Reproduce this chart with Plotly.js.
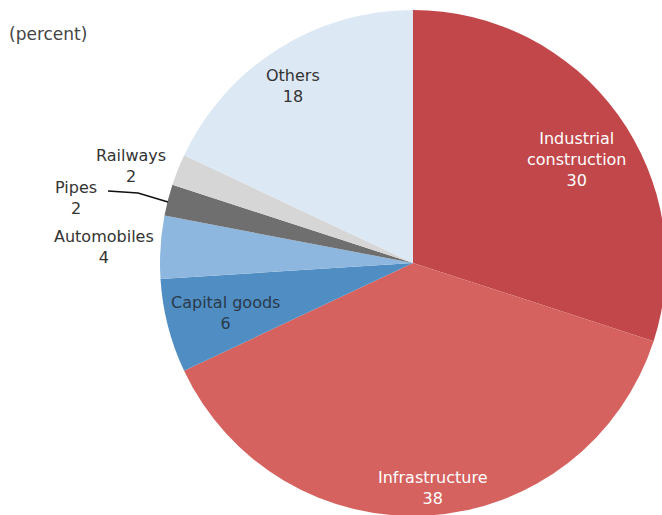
<!DOCTYPE html>
<html>
<head>
<meta charset="utf-8">
<script src="https://cdn.plot.ly/plotly-3.0.1.min.js"></script>
<style>
  html, body { margin:0; padding:0; background:#fff; overflow:hidden; width:662px; height:515px; }
  #chart { position:absolute; left:0; top:0; width:700px; height:540px; }
</style>
</head>
<body>
<div id="chart"></div>
<script>
// ---- data ----
const categories = ['Industrial construction', 'Infrastructure', 'Capital goods', 'Automobiles', 'Pipes', 'Railways', 'Others'];
const shares = [30, 38, 6, 4, 2, 2, 18];
const sliceColors = ['#C2474A', '#D5625F', '#4F8DC2', '#8DB7DE', '#6F6F6F', '#D6D6D6', '#DCE8F4'];
const unitNote = '(percent)';

// ---- layout helpers (pixel -> paper for a 700x540 plot area) ----
const W = 700, H = 540;
const px = x => x / W;
const py = y => 1 - y / H;

// label positions (style only)
const labelPos = [
  {x: 577, y: 159, color: '#FFFFFF'},
  {x: 432, y: 488, color: '#FFFFFF'},
  {x: 225, y: 313, color: '#2A3A4A'},
  {x: 104, y: 247, color: '#333333'},
  {x: 76,  y: 198, color: '#333333'},
  {x: 131, y: 166, color: '#333333'},
  {x: 293, y: 86,  color: '#333333'}
];

const annotations = categories.map((c, i) => ({
  text: c.replace('Industrial ', 'Industrial<br>') + '<br>' + shares[i],
  xref: 'paper', yref: 'paper',
  x: px(labelPos[i].x), y: py(labelPos[i].y),
  xanchor: 'center', yanchor: 'middle',
  showarrow: false,
  font: {family: 'DejaVu Sans, sans-serif', size: 16, color: labelPos[i].color}
}));
annotations.push({
  text: unitNote, xref: 'paper', yref: 'paper',
  x: px(7), y: py(34), xanchor: 'left', yanchor: 'middle', showarrow: false,
  font: {family: 'DejaVu Sans, sans-serif', size: 17, color: '#444444'}
});

const trace = {
  type: 'pie',
  labels: categories,
  values: shares,
  sort: false,
  direction: 'clockwise',
  rotation: 0,
  textinfo: 'none',
  hoverinfo: 'label+value',
  marker: {colors: sliceColors, line: {color: '#FFFFFF', width: 0}},
  domain: {x: [px(160), px(666)], y: [py(516), py(10)]},
  showlegend: false
};

const layout = {
  width: W, height: H,
  margin: {l: 0, r: 0, t: 0, b: 0},
  paper_bgcolor: '#FFFFFF',
  showlegend: false,
  annotations: annotations,
  shapes: [{
    type: 'path', xref: 'paper', yref: 'paper',
    path: 'M ' + px(108) + ' ' + py(191) + ' L ' + px(138) + ' ' + py(193) + ' L ' + px(168) + ' ' + py(202),
    line: {color: '#111111', width: 1.5}
  }]
};

Plotly.newPlot('chart', [trace], layout, {staticPlot: true, displayModeBar: false});
</script>
</body>
</html>
